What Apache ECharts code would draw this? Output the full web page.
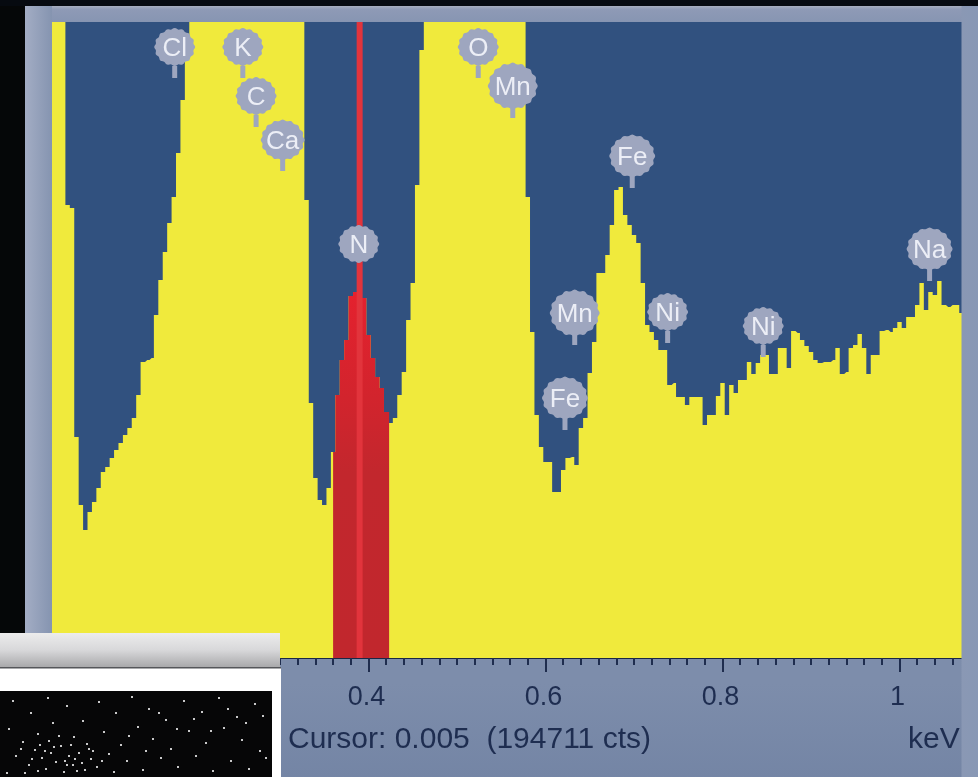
<!DOCTYPE html>
<html><head><meta charset="utf-8">
<style>html,body{margin:0;padding:0;background:#050708}#c{width:978px;height:777px}</style>
<script src="https://cdn.jsdelivr.net/npm/echarts@6/dist/echarts.min.js"></script>
</head><body><div id="c"></div>
<script>
// Spectrum counts per 0.005 keV channel, first channel at channelStart (top of the view is 636)
const channelStart = 0.04, channelWidth = 0.005;
const counts = [
700,700,700,700,453,450,221,153,128,146,156,170,186,191,200,208,215,223,230,240,
263,296,298,300,343,378,406,435,461,505,558,608,
700,700,700,700,700,700,700,700,700,700,700,700,700,700,700,700,700,700,700,700,700,700,700,700,700,700,
458,255,180,158,153,170,206,263,298,318,362,366,370,360,323,300,281,270,246,235,240,263,286,338,375,473,608,
700,700,700,700,700,700,700,700,700,700,700,700,700,700,700,700,700,700,700,700,700,700,700,
461,326,243,211,196,196,166,166,188,200,201,193,230,240,285,316,385,385,403,433,468,471,443,433,423,415,375,333,326,318,308,308,
273,275,261,261,253,261,261,261,233,243,243,262,275,243,273,265,278,278,296,284,295,303,303,284,284,310,310,290,327,325,318,312,306,298,295,296,296,298,310,284,286,310,313,324,310,284,303,303,
327,328,326,330,336,330,341,341,353,375,348,366,363,377,353,351,353,353,345,345
];
const roiStart = 0.36, roiEnd = 0.4233, cursorKeV = 0.39;
const peakNames = ['Cl','K','C','Ca','N','O','Mn','Fe','Mn','Ni','Ni','Fe','Na'];
const peakKeV   = [0.181,0.258,0.273,0.303,0.389,0.524,0.563,0.698,0.633,0.738,0.846,0.622,1.034];
const peakLevel = [611,611,562,518,414,611,572,502,345,346,332,260,409];
const tickMax = 1.2, tickStep = 0.2;
const speckles = [[12,700],[30,712],[47,697],[66,705],[82,720],[98,701],[115,712],[131,696],[148,708],[165,719],[183,700],[201,711],[218,697],[236,716],[254,703],
[8,728],[22,741],[37,733],[52,722],[60,745],[73,736],[88,748],[103,731],[120,744],[137,726],[152,738],[170,748],[188,730],[205,742],[223,727],[241,739],[259,750],
[15,755],[28,764],[34,749],[41,757],[45,768],[50,752],[55,761],[63,771],[68,755],[72,764],[78,752],[84,769],[90,758],[96,766],[108,753],[113,771],[126,760],[142,769],
[160,757],[177,766],[195,755],[212,770],[230,760],[248,768],[265,757],[6,772],[20,748],[31,758],[39,744],[48,740],[58,735],[64,760],[70,744],[76,770],[86,743],[92,750],
[101,760],[44,750],[53,746],[66,764],[74,758],[81,762],[37,770],[24,772],[128,735],[145,750],[158,712],[176,728],[193,718],[210,730],[227,708],[245,722],[262,715]];

const keV = counts.map((_, i) => +(channelStart + i * channelWidth).toFixed(3));
const spectrum = keV.map((k, i) => [k, counts[i]]);
const roi = spectrum.filter(p => p[0] >= roiStart && p[0] <= roiEnd);
roi.push([roiEnd, roi[roi.length - 1][1]]);

const chart = echarts.init(document.getElementById('c'), null, {renderer: 'canvas'});
const LG = echarts.graphic.LinearGradient;
const font = '"Liberation Sans", Arial, sans-serif';

// scalloped badge outline
let badge = 'path://';
for (let i = 0; i < 96; i++) {
  const a = i / 96 * Math.PI * 2, r = 100 + 3.5 * Math.cos(a * 16);
  badge += (i ? 'L' : 'M') + (100 + r * Math.cos(a)).toFixed(1) + ' ' + (100 + r * Math.sin(a)).toFixed(1);
}
badge += 'Z';

const peakData = peakNames.map((n, i) => {
  const wide = n === 'Mn' ? 50 : (n === 'Fe' || n === 'Na' ? 46 : (n === 'Ca' ? 44 : 41));
  return {name: n, value: [peakKeV[i], peakLevel[i]], symbolSize: [wide, wide - 3]};
});
const stemData = peakNames.map((n, i) => ({
  name: n, value: [peakKeV[i], peakLevel[i]],
  symbolSize: n === 'N' ? 0 : [5, 12],
  symbolOffset: [0, n === 'Mn' || n === 'Fe' || n === 'Na' ? 26 : 25]
}));

const cover = (x, y, w, h, fill, z) => ({type: 'rect', z: z || 100, silent: true, shape: {x, y, width: w, height: h}, style: {fill}});
const graphics = [
  cover(0, 0, 25, 777, '#050708'),
  cover(0, 0, 978, 6, '#060a10'),
  cover(25, 6, 953, 16, new LG(0, 0, 0, 1, [{offset: 0, color: '#a7aebf'}, {offset: 0.2, color: '#8e9ab6'}, {offset: 1, color: '#8795b2'}])),
  cover(25, 6, 27, 660, new LG(0, 0, 1, 0, [{offset: 0, color: '#a3adc4'}, {offset: 1, color: '#8594b0'}])),
  cover(961.5, 6, 17, 771, new LG(0, 0, 1, 0, [{offset: 0, color: '#8a98b4'}, {offset: 1, color: '#8898b5'}])),
  cover(0, 633, 280, 34, new LG(0, 0, 0, 1, [{offset: 0, color: '#ececec'}, {offset: 0.5, color: '#d8d8da'}, {offset: 1, color: '#a9a9ab'}]), 110),
  cover(0, 667, 281, 1.5, '#55565a', 111),
  cover(0, 668, 281, 109, '#ffffff', 110),
  cover(0, 691, 272, 86, '#060607', 111),
  ...speckles.map(p => cover(p[0], p[1], 2, 2, 'rgba(235,235,235,0.85)', 112)),
  {type: 'text', z: 120, silent: true, style: {x: 288, y: 725, text: 'Cursor: 0.005  (194711 cts)', fill: '#1e2d50', font: '30px ' + font}},
  {type: 'text', z: 120, silent: true, style: {x: 908, y: 725, text: 'keV', fill: '#1e2d50', font: '30px ' + font}}
];

chart.setOption({
  animation: false,
  backgroundColor: new LG(0, 0, 0, 1, [{offset: 0, color: '#7d8dab'}, {offset: 0.88, color: '#7d8dab'}, {offset: 1, color: '#7485a5'}]),
  grid: {left: 14.5, top: 22, width: 1062, height: 636, show: true, backgroundColor: '#31517f', borderWidth: 0, outerBoundsMode: 'none', containLabel: false},
  xAxis: {
    type: 'value', min: 0, max: tickMax, interval: tickStep,
    splitLine: {show: false},
    axisLine: {onZero: false, lineStyle: {color: '#1a2745', width: 2}},
    axisTick: {length: 14, lineStyle: {color: '#1f2d4e', width: 2}},
    minorTick: {show: true, splitNumber: 10, length: 7, lineStyle: {color: '#1f2d4e', width: 2}},
    minorSplitLine: {show: false},
    axisLabel: {margin: 26, padding: [0, 4, 0, 0], color: '#1e2d50', fontFamily: font, fontSize: 27}
  },
  yAxis: {type: 'value', min: 0, max: 636, show: false},
  series: [
    {name: 'Spectrum', type: 'line', step: 'middle', data: spectrum, showSymbol: false, silent: true, z: 2,
     lineStyle: {width: 0}, areaStyle: {color: '#f0ea3c', opacity: 1}},
    {name: 'ROI', type: 'line', step: 'middle', data: roi, showSymbol: false, silent: true, z: 3,
     lineStyle: {width: 0},
     areaStyle: {opacity: 1, color: new LG(0, 0, 0, 1, [{offset: 0, color: '#e5212e'}, {offset: 0.3, color: '#d2242d'}, {offset: 0.5, color: '#c2272d'}, {offset: 1, color: '#c1272d'}])}},
    {name: 'Cursor', type: 'line', data: [[cursorKeV, 0], [cursorKeV, 636]], showSymbol: false, silent: true, z: 4,
     lineStyle: {width: 6, color: '#e2343c', cap: 'butt'}},
    {name: 'Stems', type: 'scatter', data: stemData, symbol: 'rect', silent: true, z: 5, clip: false,
     itemStyle: {color: '#9ea6bf', opacity: 1}},
    {name: 'Peaks', type: 'scatter', data: peakData, symbol: badge, silent: true, z: 6, clip: false,
     itemStyle: {color: '#9ea6bf', opacity: 1},
     label: {show: true, position: 'inside', offset: [0, 2], formatter: '{b}', color: '#eceef6', fontFamily: font, fontSize: 26}}
  ],
  graphic: {elements: graphics}
});
</script></body></html>
